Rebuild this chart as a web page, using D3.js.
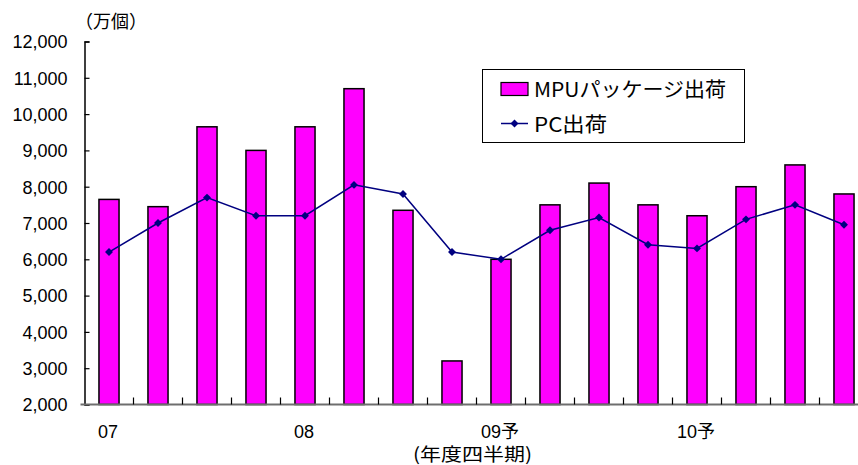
<!DOCTYPE html>
<html>
<head>
<meta charset="utf-8">
<script src="https://cdn.jsdelivr.net/npm/d3@7"></script>
<style>
  html, body { margin: 0; padding: 0; background: #fff; }
  svg { display: block; }
  text { font-family: "Liberation Sans", Arial, "Noto Sans CJK JP", sans-serif; fill: #000; }
</style>
</head>
<body>
<svg id="chart" width="858" height="465"></svg>
<script>
// Quarterly shipments (10,000 units), FY07 Q1 – FY10 Q4
const quarters = ["07Q1","07Q2","07Q3","07Q4","08Q1","08Q2","08Q3","08Q4",
                  "09Q1","09Q2","09Q3","09Q4","10Q1","10Q2","10Q3","10Q4"];
const mpuShipments = [7650, 7450, 9650, 9000, 9650, 10700, 7350, 3200,
                      6000, 7500, 8100, 7500, 7200, 8000, 8600, 7800];
const pcShipments  = [6200, 7000, 7700, 7200, 7200, 8050, 7800, 6200,
                      6000, 6800, 7150, 6400, 6300, 7100, 7500, 6950];
const yearLabels = [
  { q: "07Q1", label: "07" },
  { q: "08Q1", label: "08" },
  { q: "09Q1", label: "09予" },
  { q: "10Q1", label: "10予" }
];
const yTicks = [2000, 3000, 4000, 5000, 6000, 7000, 8000, 9000, 10000, 11000, 12000];
const seriesNames = ["MPUパッケージ出荷", "PC出荷"];

(function () {
const svg = d3.select("#chart");
const plotLeft = 84.5, plotRight = 868.5, plotTop = 41.5, plotBottom = 404.5;
const cjk = "'Noto Sans CJK JP', sans-serif";

const x = d3.scaleBand().domain(quarters).range([plotLeft, plotRight]).padding(0);
const y = d3.scaleLinear().domain([2000, 12000]).range([plotBottom, plotTop]);
const barW = x.bandwidth() * 0.41;
const cx = q => x(q) + x.bandwidth() / 2;

// Y axis with inward ticks
const yAxis = d3.axisLeft(y).tickValues(yTicks).tickSize(-5).tickPadding(17)
  .tickFormat(d3.format(","));
const gy = svg.append("g").attr("transform", `translate(${plotLeft},0)`).call(yAxis);
gy.select(".domain").attr("stroke", "#000").attr("stroke-width", 1.5);
gy.selectAll(".tick line").attr("stroke", "#000").attr("stroke-width", 1.2);
gy.selectAll(".tick text").attr("font-size", 18).attr("dy", "0.35em")
  .style("font-family", "'Liberation Sans', Arial, sans-serif");

// Bars
svg.append("g").selectAll("rect").data(quarters).join("rect")
  .attr("x", (q) => cx(q) - barW / 2)
  .attr("width", barW)
  .attr("y", (q, i) => y(mpuShipments[i]))
  .attr("height", (q, i) => y(2000) - y(mpuShipments[i]))
  .attr("fill", "#FF00FF")
  .attr("stroke", "#000")
  .attr("stroke-width", 1.5);

// X axis: line along 2,000 with inward ticks at quarter boundaries
const xBase = svg.append("g");
xBase.append("line")
  .attr("x1", plotLeft - 4).attr("x2", plotRight)
  .attr("y1", y(2000)).attr("y2", y(2000))
  .attr("stroke", "#6e6e6e").attr("stroke-width", 2);
xBase.selectAll("line.tick").data(quarters.slice(1)).join("line")
  .attr("class", "tick")
  .attr("x1", q => x(q)).attr("x2", q => x(q))
  .attr("y1", y(2000)).attr("y2", y(2000) - 7)
  .attr("stroke", "#000").attr("stroke-width", 1.2);

// PC line with diamond markers
const line = d3.line().x((q) => cx(q)).y((q, i) => y(pcShipments[i]));
svg.append("path").datum(quarters)
  .attr("d", line)
  .attr("fill", "none")
  .attr("stroke", "#000080")
  .attr("stroke-width", 1.5);
const diamond = d3.symbol().type(d3.symbolDiamond2).size(40);
svg.append("g").selectAll("path").data(quarters).join("path")
  .attr("d", diamond)
  .attr("transform", (q, i) => `translate(${cx(q)},${y(pcShipments[i])})`)
  .attr("fill", "#000080");

// Fiscal-year labels under the first quarter of each year
svg.append("g").selectAll("text").data(yearLabels).join("text")
  .attr("x", d => cx(d.q) - 1)
  .attr("y", 437.5)
  .attr("text-anchor", "middle")
  .attr("font-size", 18)
  .style("font-family", "'Liberation Sans', " + cjk)
  .text(d => d.label);

svg.append("text")
  .attr("x", 413).attr("y", 461)
  .attr("font-size", 18)
  .attr("textLength", 119).attr("lengthAdjust", "spacingAndGlyphs")
  .style("font-family", cjk)
  .text("(年度四半期)");

svg.append("text")
  .attr("x", 75).attr("y", 28)
  .attr("font-size", 18)
  .style("font-family", cjk)
  .text("（万個）");

// Legend
const lg = svg.append("g");
lg.append("rect").attr("x", 482.5).attr("y", 69.5).attr("width", 262).attr("height", 73)
  .attr("fill", "#fff").attr("stroke", "#000").attr("stroke-width", 1);
lg.append("rect").attr("x", 501).attr("y", 82.5).attr("width", 27).attr("height", 13)
  .attr("fill", "#FF00FF").attr("stroke", "#000").attr("stroke-width", 1.2);
lg.append("text").attr("x", 534).attr("y", 96.5).attr("font-size", 20)
  .attr("textLength", 192).attr("lengthAdjust", "spacingAndGlyphs")
  .style("font-family", cjk).text(seriesNames[0]);
lg.append("line").attr("x1", 501).attr("x2", 528).attr("y1", 123.5).attr("y2", 123.5)
  .attr("stroke", "#000080").attr("stroke-width", 1.5);
lg.append("path").attr("d", diamond).attr("transform", "translate(514.5,123.5)").attr("fill", "#000080");
lg.append("text").attr("x", 534).attr("y", 131.5).attr("font-size", 20)
  .attr("textLength", 73).attr("lengthAdjust", "spacingAndGlyphs")
  .style("font-family", cjk).text(seriesNames[1]);
})();
</script>
</body>
</html>
